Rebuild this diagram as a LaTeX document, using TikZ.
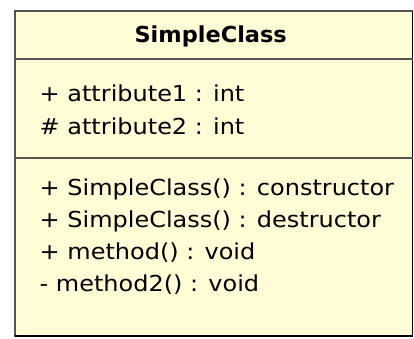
\documentclass[tikz,border=0pt]{standalone}
\usepackage{fontspec}
\setmainfont{DejaVu Sans}
\newfontfamily\memberfont[FakeStretch=1.09]{DejaVu Sans}
\newfontfamily\namefont[FakeStretch=1.02,BoldFont={DejaVu Sans Bold}]{DejaVu Sans}
\definecolor{classfill}{RGB}{255,252,214}
\definecolor{classline}{RGB}{85,85,85}
\begin{document}
\begin{tikzpicture}[x=1pt,y=-1pt,
  member/.style={anchor=base west, inner sep=0pt, font=\memberfont\fontsize{22}{26}\selectfont},
  classname/.style={anchor=base, inner sep=0pt, font=\namefont\fontsize{22}{26}\selectfont\bfseries},
  sep/.style={classline, line width=1.5pt}]
\useasboundingbox (0,0) rectangle (414,338);
% class box
\draw[classline, fill=classfill, line width=1.5pt] (14.8,11) rectangle (412.5,336);
\draw[black, line width=1.5pt] (412.5,11) -- (412.5,336) -- (14.8,336);
% compartment separators
\coordinate (s1l) at (14.8,59);  \coordinate (s1r) at (412.5,59);
\coordinate (s2l) at (14.8,158); \coordinate (s2r) at (412.5,158);
\draw[sep] (s1l) -- (s1r);
\draw[sep] (s2l) -- (s2r);
% name
\node[classname] (name) at (210.7,42.7) {SimpleClass};
% attributes
\node[member] (a1) at (39.5,101.7) {+ attribute1 : int};
\node[member] (a2) at (39.5,134.3) {\# attribute2 : int};
% operations
\node[member] (m1) at (39.5,195) {+ SimpleClass() : constructor};
\node[member] (m2) at (39.5,227.5) {+ SimpleClass() : destructor};
\node[member] (m3) at (39.5,259.5) {+ method() : void};
\node[member] (m4) at (39.5,291.7) {- method2() : void};
\end{tikzpicture}
\end{document}
